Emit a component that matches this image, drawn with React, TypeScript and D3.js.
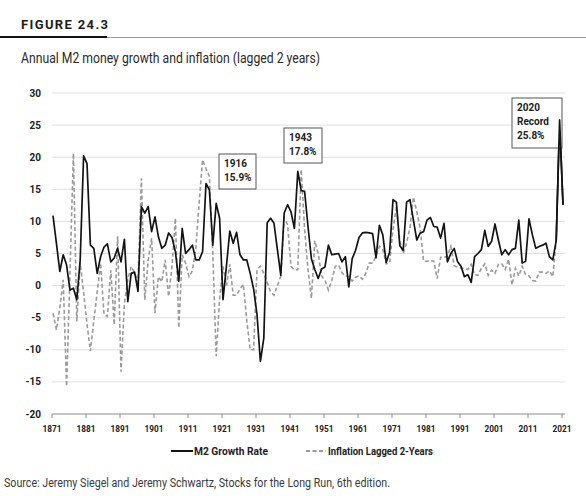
import * as d3 from 'd3';

const firstYear = 1871;

// annual M2 growth, 1871..2021 (%)
const m2Growth = [
  10.9, 6.6, 2.2, 4.8, 3.2, -0.7, -0.4, -2.2, 4.0, 20.2,
  19.0, 6.3, 5.8, 1.9, 4.5, 6.0, 6.5, 3.7, 4.3, 5.8,
  3.7, 7.2, -2.5, 1.9, 2.1, -0.9, 12.3, 11.3, 12.3, 8.4,
  10.7, 7.6, 5.8, 6.3, 8.2, 7.5, 5.3, 0.7, 8.9, 5.0,
  5.6, 6.3, 4.0, 4.0, 5.3, 15.9, 14.9, 6.3, 12.8, 10.5,
  -2.2, 3.0, 8.5, 6.6, 8.3, 4.8, 4.0, 4.0, 1.9, -0.5,
  -4.5, -11.8, -8.2, 9.8, 10.5, 9.7, 5.6, 1.6, 11.3, 12.6,
  11.5, 8.9, 17.8, 14.8, 14.7, 9.2, 4.2, 2.5, 1.1, 2.6,
  2.9, 6.3, 4.8, 4.9, 5.0, 3.7, 4.5, -0.2, 4.2, 5.5,
  7.5, 8.2, 8.3, 8.2, 8.1, 4.3, 9.4, 7.9, 3.6, 5.2,
  13.4, 13.0, 6.2, 5.5, 13.0, 13.4, 10.2, 7.1, 8.2, 8.4,
  10.2, 10.6, 9.2, 9.1, 7.4, 9.7, 3.7, 5.0, 5.8, 3.7,
  3.0, 1.4, 1.7, 0.5, 4.5, 5.0, 5.6, 8.6, 6.1, 6.9,
  9.6, 7.1, 4.8, 5.6, 4.8, 5.6, 5.8, 10.2, 3.5, 3.8,
  10.4, 7.9, 5.8, 6.1, 6.3, 6.6, 4.5, 4.0, 7.0, 25.8,
  12.6,
];

// inflation two years later, plotted at 1871..2019 (%)
const inflationLagged = [
  -4.3, -6.9, -3.5, 0.9, -15.7, 2.0, 20.6, -5.6, 3.5, -1.0,
  -6.0, -10.2, -5.5, -1.0, 3.5, -4.5, -4.8, 2.4, -6.1, 7.7,
  -13.4, -2.8, 0.9, 3.0, 2.0, 0.5, 16.7, -2.2, 4.0, 7.4,
  -4.3, 1.4, 0.6, 4.0, -1.7, 3.0, 10.5, -6.6, 4.8, 3.5,
  1.4, 2.3, 5.8, 13.0, 19.6, 18.2, 17.0, 5.0, -11.0, -2.0,
  3.0, 0.0, 3.3, -1.5, -1.5, -0.5, 0.2, -5.5, -10.0, -10.0,
  2.5, 3.0, 1.9, 0.5, -1.0, -1.5, 0.0, 1.5, 10.5, 9.5,
  3.0, 2.4, 2.5, 18.1, 8.8, 2.5, -2.0, 7.0, 5.0, 1.5,
  0.8, -0.7, 0.8, 3.0, 3.2, 2.0, 1.5, 1.4, 0.7, 1.3,
  1.5, 1.0, 1.9, 3.5, 3.5, 4.6, 6.1, 5.6, 3.4, 3.5,
  8.7, 12.3, 6.9, 5.0, 6.7, 9.0, 13.8, 11.5, 8.9, 3.8,
  3.8, 3.9, 3.8, 1.1, 4.4, 4.4, 4.6, 6.1, 3.1, 2.9,
  2.7, 2.7, 2.5, 3.3, 1.7, 1.6, 2.7, 3.4, 1.6, 2.4,
  1.9, 3.3, 3.4, 2.5, 4.1, 0.1, 2.7, 1.5, 3.0, 1.7,
  1.5, 0.8, 0.7, 2.1, 2.1, 1.9, 2.3, 1.4, 7.0,
];

const yTicks = [30, 25, 20, 15, 10, 5, 0, -5, -10, -15, -20];
const xTicks = [1871, 1881, 1891, 1901, 1911, 1921, 1931, 1941, 1951, 1961, 1971, 1981, 1991, 2001, 2011, 2021];

const callouts = [
  { year: 1916, lines: ['1916', '15.9%'] },
  { year: 1943, lines: ['1943', '17.8%'] },
  { year: 2020, lines: ['2020', 'Record', '25.8%'] },
];

const seriesNames = ['M2 Growth Rate', 'Inflation Lagged 2-Years'];

const FONT = 'Roboto, "Open Sans", sans-serif';

export default function App() {
  const width = 586;
  const height = 496;
  const plotLeft = 52;
  const plotRight = 565;

  const x = d3.scaleLinear().domain([1871, 2021]).range([53, 563]);
  const y = d3.scaleLinear().domain([-20, 30]).range([414, 93]);

  const line = d3
    .line<number>()
    .x((_, i) => x(firstYear + i))
    .y((d) => y(d));

  // where each callout box sits (left, top, width, height)
  const boxLayout: Record<number, [number, number, number, number]> = {
    1916: [219, 154, 37, 35],
    1943: [284, 128, 38, 35],
    2020: [512, 98, 50, 50],
  };

  const spikeFrom = m2Growth.length - 3;

  return (
    <svg
      width={width}
      height={height}
      style={{ position: 'absolute', left: 0, top: 0, background: '#fff' }}
      fontFamily={FONT}
    >
      {/* header */}
      <text x={21} y={29} fontSize={13} fontWeight={700} fill="#1e1e1e" textLength={87} lengthAdjust="spacing">
        FIGURE 24.3
      </text>
      <line x1={107} x2={586} y1={37.5} y2={37.5} stroke="#9a9a9a" strokeWidth={1} />
      <line x1={0} x2={107} y1={37} y2={37} stroke="#111" strokeWidth={2.2} />
      <text x={21} y={63} fontSize={14} fill="#2b2b2b" textLength={299} lengthAdjust="spacingAndGlyphs">
        Annual M2 money growth and inflation (lagged 2 years)
      </text>

      {/* grid */}
      {yTicks.map((t) => (
        <g key={t}>
          {t > -20 && (
            <line x1={plotLeft} x2={plotRight} y1={y(t)} y2={y(t)} stroke="#e0e0e0" strokeWidth={1} />
          )}
          <text x={41} y={y(t) + 3.5} fontSize={10} fontWeight={700} textAnchor="end" fill="#222">
            {t}
          </text>
        </g>
      ))}

      {/* x axis */}
      <line x1={plotLeft} x2={plotRight} y1={y(-20)} y2={y(-20)} stroke="#8c8c8c" strokeWidth={1.2} />
      {xTicks.map((t) => (
        <g key={t}>
          <line x1={x(t) - 1} x2={x(t) - 1} y1={y(-20)} y2={y(-20) + 4} stroke="#8c8c8c" strokeWidth={1} />
          <text x={x(t) - 1} y={432} fontSize={9.5} fontWeight={700} textAnchor="middle" fill="#222" textLength={19} lengthAdjust="spacingAndGlyphs">
            {t}
          </text>
        </g>
      ))}

      {/* series */}
      <path
        d={line(inflationLagged) ?? ''}
        fill="none"
        stroke="#9a9a9a"
        strokeWidth={1.6}
        strokeDasharray="4 2.5"
      />
      <path d={line(m2Growth) ?? ''} fill="none" stroke="#141414" strokeWidth={1.7} strokeLinejoin="round" />

      {/* callouts */}
      {callouts.map((c) => {
        const [bx, by, bw, bh] = boxLayout[c.year];
        return (
          <g key={c.year}>
            <rect x={bx} y={by} width={bw} height={bh} fill="#fff" stroke="#555" strokeWidth={1} />
            {c.lines.map((l, i) => (
              <text key={l} x={bx + 5} y={by + 13 + i * 14} fontSize={10} fontWeight={700} fill="#222">
                {l}
              </text>
            ))}
          </g>
        );
      })}
      {/* the 2020 spike runs over its own callout */}
      <path
        d={line(m2Growth.slice(spikeFrom)) ?? ''}
        transform={`translate(${x(firstYear + spikeFrom) - x(firstYear)},0)`}
        fill="none"
        stroke="#141414"
        strokeWidth={1.7}
        strokeLinejoin="round"
      />

      {/* legend */}
      <line x1={171} x2={193} y1={451} y2={451} stroke="#141414" strokeWidth={2} />
      <text x={194} y={455} fontSize={10} fontWeight={700} fill="#222" textLength={74} lengthAdjust="spacingAndGlyphs">
        {seriesNames[0]}
      </text>
      <line x1={306} x2={326} y1={451} y2={451} stroke="#9a9a9a" strokeWidth={2} strokeDasharray="4 2.5" />
      <text x={328} y={455} fontSize={10} fontWeight={700} fill="#222" textLength={105} lengthAdjust="spacingAndGlyphs">
        {seriesNames[1]}
      </text>

      {/* source */}
      <text x={4} y={487} fontSize={12} fill="#3a3a3a" textLength={386} lengthAdjust="spacingAndGlyphs">
        Source: Jeremy Siegel and Jeremy Schwartz, Stocks for the Long Run, 6th edition.
      </text>
    </svg>
  );
}
